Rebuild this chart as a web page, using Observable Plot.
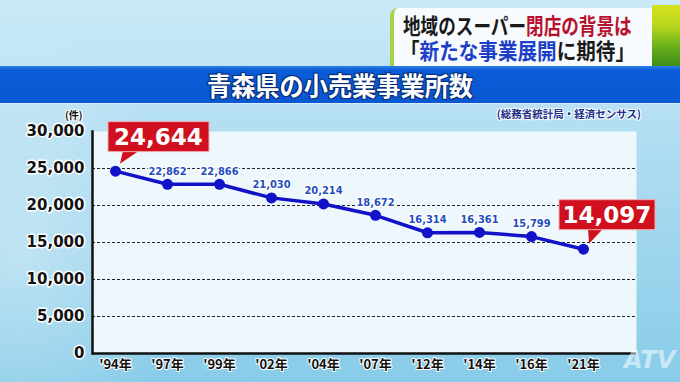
<!DOCTYPE html>
<html><head><meta charset="utf-8">
<script src="https://cdn.jsdelivr.net/npm/d3@7"></script>
<script src="https://cdn.jsdelivr.net/npm/@observablehq/plot@0.6"></script>
<style>
body{margin:0;}
#root{position:relative;width:680px;height:382px;overflow:hidden;
 background:
  radial-gradient(ellipse 230px 320px at 20px 250px, rgba(255,255,255,0.35), rgba(255,255,255,0) 70%),
  linear-gradient(180deg,#cbe9f7 0%,#abdbf0 45%,#88cce9 100%);
 font-family:"Noto Sans CJK JP",sans-serif;}
#head{position:relative;height:105px;}
#box{position:absolute;left:390px;top:8px;width:258px;height:58px;background:#f7fbfd;border-radius:8px 0 0 0;
 border-left:4px solid #a6d24a;}
#green{position:absolute;left:652px;top:5px;width:28px;height:61px;
 background:linear-gradient(180deg,#d6e21c 0%,#b7d51e 35%,#6fb41c 65%,#3e8c18 100%);}
.hl{position:absolute;white-space:nowrap;font-weight:700;color:#1a1a1a;transform-origin:0 50%;line-height:22px;height:22px;}
#l1{left:403px;top:13px;font-size:22px;transform:scaleX(0.8);}
#l2{left:400px;top:38px;font-size:22px;transform:scaleX(0.89);}
.red{color:#b8102e;}
.blue{color:#1d3fc7;}
#band{position:absolute;left:0;top:66px;width:680px;height:37px;background:linear-gradient(180deg,#2f7fe6 0%,#0a5bd6 12%,#0a58d2 100%);
 border-bottom:1px solid #d8ecf8;color:#fff;font-weight:700;font-size:26px;text-align:center;line-height:37px;
 text-shadow:0 0 2px #08307a,1px 1px 0 #08307a,-1px -1px 0 #08307a,1px -1px 0 #08307a,-1px 1px 0 #08307a;}
#band span{display:inline-block;transform:scaleX(0.93);}
#src{position:absolute;right:39px;top:106px;font-size:10.5px;font-weight:700;color:#1b2f8a;
 text-shadow:1px 1px 0 #fff,-1px -1px 0 #fff,1px -1px 0 #fff,-1px 1px 0 #fff;}
#unit{position:absolute;left:65px;top:107px;font-size:10px;font-weight:700;color:#111;
 text-shadow:1px 1px 0 #fff,-1px -1px 0 #fff,1px -1px 0 #fff,-1px 1px 0 #fff;}
#logo{position:absolute;left:624px;top:346px;font:italic 700 24px "DejaVu Sans",sans-serif;color:rgba(255,255,255,0.55);}
#chart svg{display:block;}
</style></head>
<body>
<div id="root">
 <div id="head">
  <div id="box"></div>
  <div id="green"></div>
  <div class="hl" id="l1">地域のスーパー<span class="red">閉店の背景は</span></div>
  <div class="hl" id="l2">「<span class="blue">新たな事業展開</span>に期待」</div>
  <div id="band"><span>青森県の小売業事業所数</span></div>
 </div>
 <div id="chart"></div>
 <div id="src">(総務省統計局・経済センサス)</div>
 <div id="unit">(件)</div>
 <div id="logo">ATV</div>
</div>
<script>
const years = ["'94年","'97年","'99年","'02年","'04年","'07年","'12年","'14年","'16年","'21年"];
const counts = [24644, 22862, 22866, 21030, 20214, 18672, 16314, 16361, 15799, 14097];
const yTicks = [0, 5000, 10000, 15000, 20000, 25000, 30000];
const gridValues = [5000, 10000, 15000, 20000, 25000];
const calloutYears = ["'94年", "'21年"];

const data = years.map((year, i) => ({year, count: counts[i]}));
const plain = data.filter(d => !calloutYears.includes(d.year));
const callouts = data.filter(d => calloutYears.includes(d.year));
const fmt = d3.format(",");

// callout box geometry (style, pixel offsets relative to the point)
const calloutStyle = {
  "'94年": {bx: -7, w: 101, t1: 8, t2: 24, tipx: 5, tipy: -7},
  "'21年": {bx: -24, w: 96, t1: 5, t2: 20, tipx: 6, tipy: -5}
};

function calloutMark(index, scales) {
  const g = d3.create("svg:g");
  for (const d of callouts) {
    const s = calloutStyle[d.year];
    const px = scales.x(d.year), py = scales.y(d.count);
    const x0 = px + s.bx, y0 = py - 49, h = 30;
    g.append("path")
      .attr("d", `M${px + s.t1},${y0 + h - 1}L${px + s.tipx},${py + s.tipy}L${px + s.t2},${y0 + h - 1}Z`)
      .attr("fill", "#d0101e");
    g.append("rect").attr("x", x0).attr("y", y0).attr("width", s.w).attr("height", h)
      .attr("fill", "#d0101e").attr("stroke", "#f3b0b0").attr("stroke-width", 1);
    g.append("text").attr("x", x0 + s.w / 2).attr("y", y0 + h / 2).attr("dy", "0.36em")
      .attr("text-anchor", "middle").attr("fill", "#fff")
      .attr("font-family", "DejaVu Sans").attr("font-weight", "bold").attr("font-size", 23)
      .text(fmt(d.count));
  }
  return g.node();
}

const lineColor = "#1212c8";

const chart = Plot.plot({
  width: 680,
  height: 277,
  marginTop: 26,
  marginBottom: 29,
  marginLeft: 92,
  marginRight: 44,
  style: {background: "transparent", overflow: "visible"},
  x: {type: "point", domain: years, range: [111, 587], padding: 0},
  y: {domain: [0, 30000]},
  marks: [
    Plot.frame({fill: "#eef7fb", stroke: "none"}),
    Plot.ruleY(gridValues, {stroke: "#222", strokeWidth: 1, strokeDasharray: "3,2"}),
    Plot.ruleY([0], {stroke: "#111", strokeWidth: 2.5}),
    Plot.frame({anchor: "left", stroke: "#111", strokeWidth: 2.5}),
    Plot.axisY({ticks: yTicks, tickSize: 0, tickPadding: 8, tickFormat: fmt, label: null,
      fontSize: 15, fontWeight: "bold", fontFamily: "DejaVu Sans", fill: "#111",
      textStroke: "white", textStrokeWidth: 3}),
    Plot.axisX({tickSize: 0, tickPadding: 6, label: null,
      fontSize: 13, fontWeight: "bold", fontFamily: "Noto Sans CJK JP", fill: "#111",
      textStroke: "white", textStrokeWidth: 2}),
    Plot.line(data, {x: "year", y: "count", stroke: lineColor, strokeWidth: 3.5}),
    Plot.dot(data, {x: "year", y: "count", r: 5.5, fill: lineColor}),
    Plot.text(plain, {x: "year", y: "count", text: d => fmt(d.count), dy: -13,
      fill: "#1f4fc0", stroke: "white", strokeWidth: 3, fontSize: 11, fontWeight: "bold",
      fontFamily: "DejaVu Sans Condensed"}),
    calloutMark
  ]
});
document.getElementById("chart").appendChild(chart);
</script>
</body></html>
